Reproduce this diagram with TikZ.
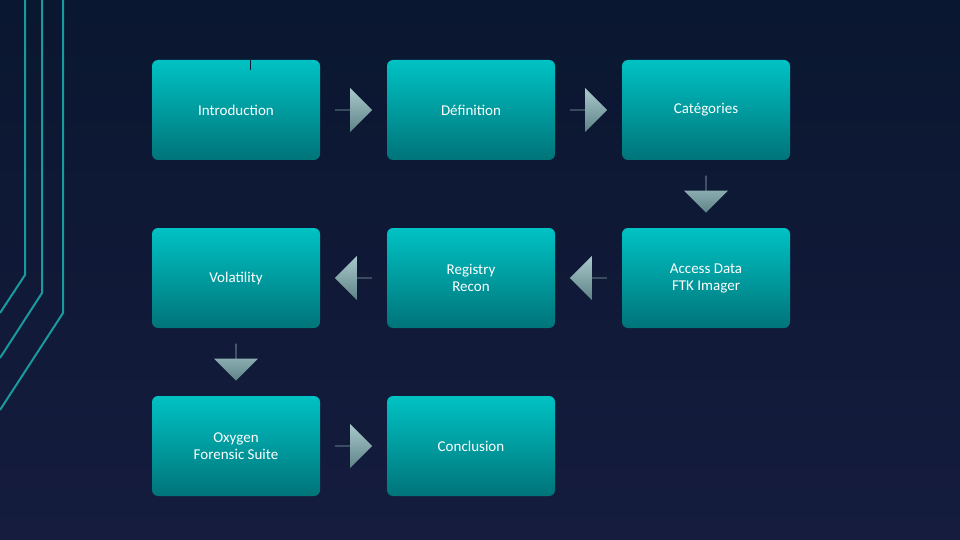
\documentclass[tikz,border=0pt]{standalone}
\usepackage{fontspec}
\setmainfont{Carlito}
\usetikzlibrary{shapes.arrows,calc}
\definecolor{bgA}{HTML}{0A1730}
\definecolor{bgB}{HTML}{151C3E}
\definecolor{teal}{HTML}{1A9A9E}
\definecolor{boxT}{HTML}{00C2C4}
\definecolor{boxB}{HTML}{007479}
\definecolor{arT}{HTML}{A9C9CC}
\definecolor{arB}{HTML}{5E8387}
\begin{document}
\begin{tikzpicture}[x=1pt,y=-1pt,
  box/.style={rounded corners=6pt,minimum width=168pt,minimum height=100pt,
    top color=boxT,bottom color=boxB,draw=none,text=white,
    font=\fontsize{15}{17}\selectfont,align=center},
  arr/.style={single arrow,draw=none,minimum width=44pt,minimum height=37pt,
    single arrow head extend=11pt,inner sep=0pt,top color=arT,bottom color=arB},
  lnt/.style={draw=teal,line width=2pt}]
\useasboundingbox (0,0) rectangle (960,540);
\shade[bottom color=bgB,top color=bgA] (0,0) rectangle (960,540);
\path[lnt] (25,0) -- (25,275) -- (0,313);
\path[lnt] (42,0) -- (42,293) -- (0,358);
\path[lnt] (63,0) -- (63,313) -- (0,410);
\node[box] (intro) at (236,110) {Introduction};
\node[box] (def) at (471,110) {Définition};
\node[box] (cat) at (706,110) {Catégories};
\node[box] (vol) at (236,278) {Volatility};
\node[box] (reg) at (471,278) {Registry\\Recon};
\node[box] (acc) at (706,278) {Access Data\\FTK Imager};
\node[box] (oxy) at (236,446) {Oxygen\\Forensic Suite};
\node[box] (con) at (471,446) {Conclusion};
\draw[color=bgA,line width=0.8pt] (250,60) -- (250,70);
\node[arr] (a1) at ($(intro.east)!0.5!(def.west)$) {};
\node[arr] (a2) at ($(def.east)!0.5!(cat.west)$) {};
\node[arr,shape border rotate=270] (a3) at ($(cat.south)!0.5!(acc.north)$) {};
\node[arr,shape border rotate=180] (a4) at ($(acc.west)!0.5!(reg.east)$) {};
\node[arr,shape border rotate=180] (a5) at ($(reg.west)!0.5!(vol.east)$) {};
\node[arr,shape border rotate=270] (a6) at ($(vol.south)!0.5!(oxy.north)$) {};
\node[arr] (a7) at ($(oxy.east)!0.5!(con.west)$) {};
\end{tikzpicture}
\end{document}
